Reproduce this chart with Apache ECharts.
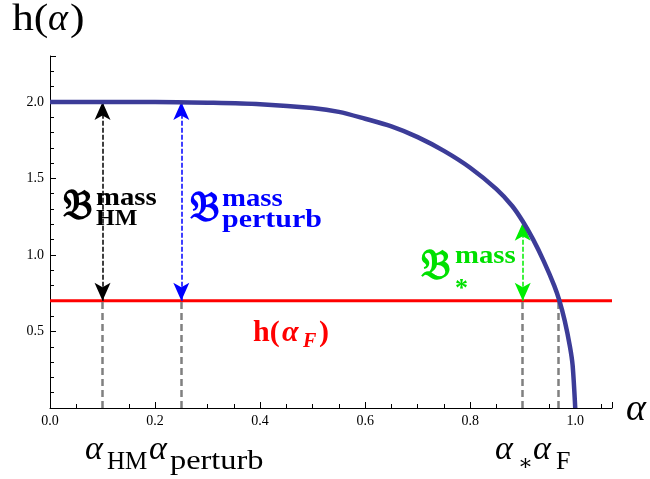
<!DOCTYPE html>
<html>
<head>
<meta charset="utf-8">
<style>
  html, body { margin: 0; padding: 0; background: #fff; }
  #chart { width: 650px; height: 479px; }
</style>
<script src="https://cdn.jsdelivr.net/npm/echarts@6/dist/echarts.min.js"></script>
</head>
<body>
<div id="chart"></div>
<script>
// data
var alphaValues = [0, 0.1, 0.2, 0.3, 0.4, 0.5, 0.55, 0.6, 0.65, 0.7, 0.75, 0.8, 0.85, 0.88, 0.9, 0.92, 0.94, 0.96, 0.97, 0.98, 0.99, 0.995, 1.0];
var hValues = [2.0, 2.0, 2.0, 1.995, 1.985, 1.96, 1.935, 1.89, 1.84, 1.77, 1.68, 1.57, 1.43, 1.32, 1.22, 1.1, 0.96, 0.8, 0.7, 0.57, 0.4, 0.28, 0.0];
var hF = 0.7;           // h(alpha_F), red line
var alphaHM = 0.1;
var alphaPerturb = 0.25;
var alphaStar = 0.9;
var hStar = 1.21;
var alphaF = 0.968;
var hTop = 2.0;
var xTicks = [0, 0.2, 0.4, 0.6, 0.8, 1.0];
var yTicks = [0.5, 1.0, 1.5, 2.0];

var chartDom = document.getElementById('chart');
var myChart = echarts.init(chartDom);

var serif = '"Liberation Serif", "DejaVu Serif", serif';

// text helper, base = baseline y
function T(x, base, text, size, o) {
  o = o || {};
  return {
    type: 'text',
    x: x,
    y: base - 0.34 * size,
    scaleX: o.sx || 1,
    z: 100,
    style: {
      text: text,
      fill: o.c || '#000',
      font: (o.st || 'normal') + ' ' + (o.w || 'normal') + ' ' + size + 'px ' + serif,
      align: 'left',
      verticalAlign: 'middle'
    }
  };
}

function arrowLine(x, y0, y1, color) {
  return {
    type: 'line',
    data: [],
    silent: true,
    markLine: {
      silent: true,
      symbol: ['arrow', 'arrow'],
      symbolSize: [12, 18],
      label: { show: false },
      lineStyle: { color: color, width: 1.5, type: [5, 2] },
      data: [[{ coord: [x, y0] }, { coord: [x, y1] }]]
    }
  };
}

function grayLine(x) {
  return [{ coord: [x, 0] }, { coord: [x, hF] }];
}

var option = {
  animation: false,
  grid: { left: 50, right: 38, top: 56, bottom: 71 },
  xAxis: {
    type: 'value',
    min: 0,
    max: 1.07,
    interval: 0.2,
    axisLine: { show: true, lineStyle: { color: '#000', width: 1 } },
    axisTick: { show: true, inside: true, length: 6, lineStyle: { color: '#000' } },
    minorTick: { show: true, splitNumber: 4, length: 4, lineStyle: { color: '#000' } },
    axisLabel: {
      color: '#000',
      fontFamily: serif,
      fontSize: 14,
      margin: 6,
      formatter: function (v) {
        for (var i = 0; i < xTicks.length; i++) if (Math.abs(v - xTicks[i]) < 1e-6) return v.toFixed(1);
        return '';
      }
    },
    splitLine: { show: false }
  },
  yAxis: {
    type: 'value',
    min: 0,
    max: 2.3,
    interval: 0.5,
    axisLine: { show: true, lineStyle: { color: '#000', width: 1 } },
    axisTick: { show: true, inside: true, length: 6, lineStyle: { color: '#000' } },
    minorTick: { show: true, splitNumber: 5, length: 4, lineStyle: { color: '#000' } },
    axisLabel: {
      color: '#000',
      fontFamily: serif,
      fontSize: 14,
      margin: 6,
      formatter: function (v) {
        for (var i = 0; i < yTicks.length; i++) if (Math.abs(v - yTicks[i]) < 1e-6) return v.toFixed(1);
        return '';
      }
    },
    splitLine: { show: false }
  },
  series: [
    {
      // gray dashed drop lines
      type: 'line',
      data: [],
      silent: true,
      markLine: {
        silent: true,
        symbol: ['none', 'none'],
        label: { show: false },
        lineStyle: { color: '#808080', width: 2.5, type: [7, 4] },
        data: [grayLine(alphaHM), grayLine(alphaPerturb), grayLine(alphaStar), grayLine(alphaF)]
      }
    },
    {
      // red line h(alpha_F)
      type: 'line',
      data: [[0, hF], [1.07, hF]],
      symbol: 'none',
      lineStyle: { color: '#ff0000', width: 3 },
      z: 3
    },
    arrowLine(alphaHM, hF, hTop, '#000'),
    arrowLine(alphaPerturb, hF, hTop, '#0000ff'),
    arrowLine(alphaStar, hF, hStar, '#00ee00'),
    {
      type: 'line',
      data: alphaValues.map(function (a, i) { return [a, hValues[i]]; }),
      symbol: 'none',
      smooth: 0.3,
      lineStyle: { color: '#3c3c98', width: 4.5 },
      z: 5
    }
  ],
  graphic: {
    elements: [
      T(12, 33, 'h(', 38, { sx: 1.15 }),
      T(48, 33, 'α', 38, { st: 'italic' }),
      T(70, 33, ')', 38, { sx: 1.15 }),
      T(626, 423, 'α', 38, { st: 'italic' }),

      T(85, 462, 'α', 34, { st: 'italic' }),
      T(107, 471, 'HM', 25),
      T(149, 462, 'α', 34, { st: 'italic' }),
      T(170, 471, 'perturb', 27, { sx: 1.2 }),
      T(495, 462, 'α', 34, { st: 'italic' }),
      T(518, 472, '∗', 22),
      T(533, 462, 'α', 34, { st: 'italic' }),
      T(556, 471, 'F', 26),

      T(63, 222, '𝔅', 41, { w: 'bold' }),
      T(96, 207, 'mass', 25, { w: 'bold', sx: 1.15 }),
      T(96, 227, 'HM', 24, { w: 'bold' }),

      T(190, 224, '𝔅', 41, { w: 'bold', c: '#0000ff' }),
      T(222, 208, 'mass', 25, { w: 'bold', sx: 1.15, c: '#0000ff' }),
      T(222, 229, 'perturb', 25, { w: 'bold', sx: 1.2, c: '#0000ff' }),

      T(421, 282, '𝔅', 41, { w: 'bold', c: '#00e000' }),
      T(455, 265, 'mass', 25, { w: 'bold', sx: 1.15, c: '#00e000' }),
      T(455, 298, '*', 26, { w: 'bold', c: '#00e000' }),

      T(253, 343, 'h(', 30, { w: 'bold', c: '#ff0000' }),
      T(282, 343, 'α', 30, { w: 'bold', st: 'italic', c: '#ff0000' }),
      T(303, 349, 'F', 20, { w: 'bold', st: 'italic', c: '#ff0000' }),
      T(319, 343, ')', 30, { w: 'bold', c: '#ff0000' })
    ]
  }
};

myChart.setOption(option);
window.addEventListener('resize', function () {
  myChart.resize();
});
</script>
</body>
</html>
